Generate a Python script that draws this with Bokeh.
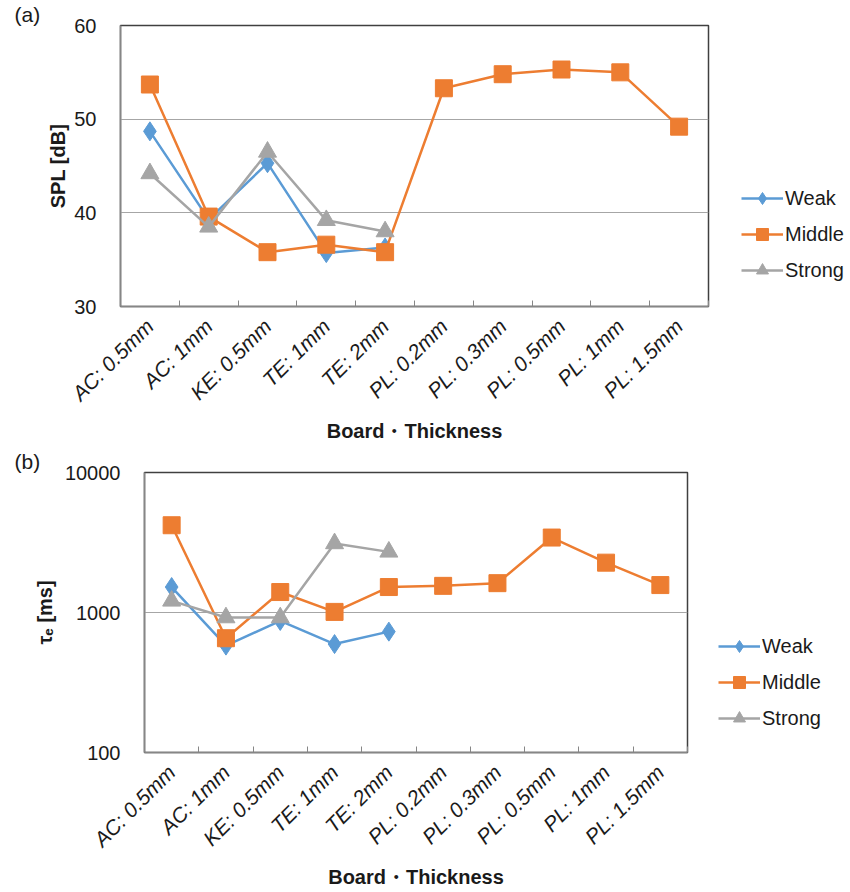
import math
from bokeh.plotting import figure
from bokeh.layouts import column, row
from bokeh.models import (Range1d, FixedTicker, PrintfTickFormatter, Legend, LegendItem, Title)
from bokeh.embed import file_html
from bokeh.resources import INLINE

# ---------------- data ----------------
categories = ["AC: 0.5mm", "AC: 1mm", "KE: 0.5mm", "TE: 1mm", "TE: 2mm",
              "PL: 0.2mm", "PL: 0.3mm", "PL: 0.5mm", "PL: 1mm", "PL: 1.5mm"]
series_names = ["Weak", "Middle", "Strong"]

spl_weak = [48.7, 39.3, 45.3, 35.7, 36.3]
spl_middle = [53.7, 39.6, 35.8, 36.6, 35.8, 53.3, 54.8, 55.3, 55.0, 49.2]
spl_strong = [44.2, 38.5, 46.5, 39.2, 38.0]

tau_weak = [1520, 580, 870, 595, 730]
tau_middle = [4200, 655, 1400, 1010, 1520, 1550, 1620, 3430, 2270, 1570]
tau_strong = [1210, 920, 920, 3110, 2710]

spl_ticks = [30, 40, 50, 60]
tau_ticks = [100, 1000, 10000]

colors = ["#5B9BD5", "#ED7D31", "#A5A5A5"]
FONT = "Liberation Sans"

n = len(categories)
centers = [i + 0.5 for i in range(n)]
bounds = [float(i) for i in range(n + 1)]
W = 850


def make_panel(values, ylabel, yrange, yticks, log, frame_w, frame_h, left, top, bottom,
               panel_text, panel_offset, legend_xy, ylab_standoff):
    kw = dict(y_axis_type="log") if log else {}
    p = figure(output_backend="svg", toolbar_location=None, width=W,
               frame_width=frame_w, frame_height=frame_h,
               min_border_left=left, min_border_right=W - left - frame_w,
               min_border_top=top, min_border_bottom=bottom,
               x_range=Range1d(0, n), y_range=Range1d(*yrange), **kw)
    p.outline_line_color = "#404040"
    p.outline_line_width = 1.5
    p.background_fill_color = "white"
    p.border_fill_color = "white"

    p.title = Title(text=panel_text, align="left", offset=panel_offset, standoff=0,
                    text_font=FONT, text_font_size="21px", text_font_style="normal",
                    text_color="#1a1a1a")

    # x axis
    xa = p.xaxis[0]
    xa.ticker = FixedTicker(ticks=centers, minor_ticks=bounds)
    xa.major_label_overrides = {c: lab for c, lab in zip(centers, categories)}
    xa.major_label_orientation = math.pi / 4
    xa.major_label_text_font = FONT
    xa.major_label_text_font_size = "21px"
    xa.major_label_text_font_style = "italic"
    xa.major_label_text_color = "#1a1a1a"
    xa.major_label_standoff = 10
    xa.major_tick_line_color = None
    xa.minor_tick_line_color = "#868686"
    xa.minor_tick_in = 6
    xa.minor_tick_out = 0
    xa.axis_line_color = "#868686"
    xa.axis_line_width = 1.5
    xa.axis_label = "Board・Thickness"
    xa.axis_label_text_font = FONT
    xa.axis_label_text_font_style = "bold"
    xa.axis_label_text_font_size = "20px"
    xa.axis_label_text_color = "#1a1a1a"
    xa.axis_label_standoff = 4

    # y axis
    ya = p.yaxis[0]
    ya.ticker = FixedTicker(ticks=yticks, minor_ticks=[])
    ya.formatter = PrintfTickFormatter(format="%d")
    ya.major_label_text_font = FONT
    ya.major_label_text_font_size = "20px"
    ya.major_label_text_color = "#1a1a1a"
    ya.major_label_standoff = 18
    ya.major_tick_line_color = None
    ya.minor_tick_line_color = None
    ya.axis_line_color = "#868686"
    ya.axis_line_width = 1.5
    ya.axis_label = ylabel
    ya.axis_label_text_font = FONT
    ya.axis_label_text_font_style = "bold"
    ya.axis_label_text_font_size = "20px"
    ya.axis_label_text_color = "#1a1a1a"
    ya.axis_label_standoff = ylab_standoff

    p.xgrid.grid_line_color = None
    p.ygrid.ticker = FixedTicker(ticks=yticks, minor_ticks=[])
    p.ygrid.grid_line_color = "#A6A6A6"
    p.ygrid.grid_line_width = 1

    markers = [("diamond", 19), ("square", 17), ("triangle", 18)]
    items = []
    for name, vals, col, (mk, sz) in zip(series_names, values, colors, markers):
        xs = centers[:len(vals)]
        ln = p.line(xs, vals, line_color=col, line_width=2.5)
        sc = p.scatter(xs, vals, marker=mk, size=sz, fill_color=col, line_color=col)
        items.append(LegendItem(label=name, renderers=[ln, sc]))

    legend = Legend(items=items, location=legend_xy)
    legend.border_line_color = None
    legend.background_fill_alpha = 0
    legend.padding = 0
    legend.margin = 0
    legend.glyph_width = 42
    legend.glyph_height = 30
    legend.spacing = 6
    legend.label_standoff = 2
    legend.label_text_font = FONT
    legend.label_text_font_size = "20px"
    legend.label_text_color = "#1a1a1a"
    p.add_layout(legend, "right")
    return p


pa = make_panel([spl_weak, spl_middle, spl_strong], "SPL [dB]", (30, 60), spl_ticks, False,
                588, 281, 120, 21, 140, "(a)", -106, (33, 21), 2)
pb = make_panel([tau_weak, tau_middle, tau_strong], "τₑ [ms]", (100, 10000), tau_ticks, True,
                543, 280, 144, 26, 138, "(b)", -130, (31, 19), 6)

layout = column(row(pa), row(pb), spacing=0)
open("out.html", "w").write(file_html(layout, INLINE))
